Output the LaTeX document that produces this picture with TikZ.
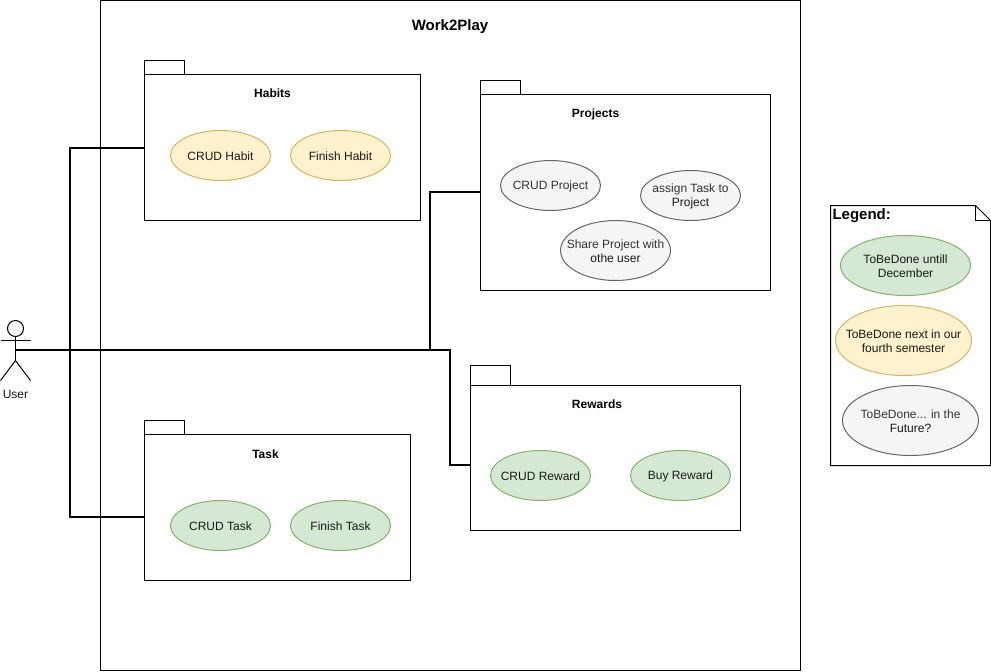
\documentclass[tikz,border=0pt]{standalone}
\usepackage{fontspec}
\setmainfont{Liberation Sans}
\usetikzlibrary{shapes.geometric}
\definecolor{greenFill}{HTML}{D5E8D4}
\definecolor{greenLine}{HTML}{82B366}
\definecolor{yellowFill}{HTML}{FFF2CC}
\definecolor{yellowLine}{HTML}{D6B656}
\definecolor{grayFill}{HTML}{F5F5F5}
\definecolor{grayLine}{HTML}{666666}
\definecolor{grayText}{HTML}{333333}
\tikzset{every picture/.style={line width=0.75pt}}
\tikzset{
  casetext/.style={inner sep=0pt,align=center,yshift=-0.75pt,text=black!90,font=\fontsize{9}{10.5}\selectfont},
  usecase/.style={ellipse,draw,inner sep=0pt,label={[casetext]center:#1}},
  todo/.style={usecase={#1},fill=greenFill,draw=greenLine},
  nexttodo/.style={usecase={#1},fill=yellowFill,draw=yellowLine},
  latertodo/.style={usecase={\color{grayText}#1},fill=grayFill,draw=grayLine},
  pkgbox/.style={draw,rectangle,inner sep=0pt,outer sep=0pt},
  pkgtitle/.style={inner sep=0.75pt,font=\fontsize{9}{10.5}\selectfont\bfseries},
  bigtitle/.style={inner sep=0pt,font=\fontsize{11.25}{13}\selectfont\bfseries},
  link/.style={line width=1.5pt},
}

\begin{document}
\begin{tikzpicture}[x=0.75pt,y=0.75pt,yscale=-1,xscale=1]
\useasboundingbox (0,0) rectangle (991,671);

%Shape: System boundary
\draw (450,335) node (systemBox) [pkgbox,minimum width=525pt,minimum height=502.5pt] {};

%Shape: Packages
\draw (164,67) node (habitsTab) [pkgbox,minimum width=30pt,minimum height=10.5pt] {};
\draw (282,147) node (habitsBox) [pkgbox,minimum width=207pt,minimum height=109.5pt] {};
\draw (500,87) node (projectsTab) [pkgbox,minimum width=30pt,minimum height=10.5pt] {};
\draw (625,192) node (projectsBox) [pkgbox,minimum width=217.5pt,minimum height=147pt] {};
\draw (490,375) node (rewardsTab) [pkgbox,minimum width=30pt,minimum height=15pt] {};
\draw (605,457.5) node (rewardsBox) [pkgbox,minimum width=202.5pt,minimum height=108.75pt] {};
\draw (164,427) node (taskTab) [pkgbox,minimum width=30pt,minimum height=10.5pt] {};
\draw (277,507) node (taskBox) [pkgbox,minimum width=199.5pt,minimum height=109.5pt] {};

%Shape: Actor
\draw (15.5,328.5) node (userHead) [draw,circle,inner sep=0pt,outer sep=0pt,minimum size=12pt] {};
\coordinate (userHip) at (15.5,360.5);
\coordinate (user) at (15.5,350);
\coordinate (userArmL) at (0.5,340.5);
\coordinate (userArmR) at (30.5,340.5);
\coordinate (userFootL) at (0.5,380.5);
\coordinate (userFootR) at (30.5,380.5);
\draw (userHead.south) -- (userHip);
\draw (userArmL) -- (userArmR);
\draw (userFootL) -- (userHip) -- (userFootR);

%Straight Lines
\coordinate (habitsIn) at (144,148);
\coordinate (taskIn) at (144,517);
\coordinate (projectsIn) at (480,192);
\coordinate (rewardsIn) at (470,465);
\draw [link] (user) -| (70,148) -- (habitsIn);
\draw [link] (user) -| (70,517) -- (taskIn);
\draw [link] (user) -| (430,192) -- (projectsIn);
\draw [link] (user) -| (450,465) -- (rewardsIn);

%Shape: Ellipse
\draw (220.5,155.5) node (crudHabit) [nexttodo={CRUD Habit},minimum width=75pt,minimum height=37.5pt] {};
\draw (340.5,155.5) node (finishHabit) [nexttodo={Finish Habit},minimum width=75pt,minimum height=37.5pt] {};
\draw (550.5,185.5) node (crudProject) [latertodo={CRUD Project},minimum width=75pt,minimum height=37.5pt] {};
\draw (690.5,195.5) node (assignTask) [latertodo={assign Task to\\Project},minimum width=75pt,minimum height=37.5pt] {};
\draw (615.5,250.5) node (shareProject) [latertodo={Share Project with\\othe user},minimum width=82.5pt,minimum height=45pt] {};
\draw (540.5,475.5) node (crudReward) [todo={CRUD Reward},minimum width=75pt,minimum height=37.5pt] {};
\draw (680.5,475.5) node (buyReward) [todo={Buy Reward},minimum width=75pt,minimum height=37.5pt] {};
\draw (220.5,525.5) node (crudTask) [todo={CRUD Task},minimum width=75pt,minimum height=37.5pt] {};
\draw (340.5,525.5) node (finishTask) [todo={Finish Task},minimum width=75pt,minimum height=37.5pt] {};

%Shape: Note
\draw (830.5,205.5) -- (975.5,205.5) -- (990.5,220.5) -- (990.5,465.5) -- (830.5,465.5) -- cycle;
\draw (975.5,205.5) -- (975.5,220.5) -- (990.5,220.5);
\draw (905.5,265.5) node (legendNow) [todo={ToBeDone untill\\December},minimum width=97.5pt,minimum height=45pt] {};
\draw (903.5,340.5) node (legendNext) [nexttodo={ToBeDone next in our\\fourth semester},minimum width=102pt,minimum height=52.5pt] {};
\draw (910.5,420.5) node (legendLater) [latertodo={ToBeDone... in the\\Future?},minimum width=102pt,minimum height=52.5pt] {};

% Text Node
\draw (450,27) node (systemName) [bigtitle] {Work2Play};
% Text Node
\draw (272.5,93.5) node (habitsName) [pkgtitle] {Habits};
% Text Node
\draw (595.5,114) node (projectsName) [pkgtitle] {Projects};
% Text Node
\draw (597,404) node (rewardsName) [pkgtitle] {Rewards};
% Text Node
\draw (265.5,454) node (taskName) [pkgtitle] {Task};
% Text Node
\draw (832,215.5) node (legendName) [bigtitle,anchor=west] {Legend:};
% Text Node
\draw (15.5,394) node (userName) [inner sep=0.75pt,font=\fontsize{9}{10.5}\selectfont,text=black!90] {User};
\end{tikzpicture}
\end{document}
